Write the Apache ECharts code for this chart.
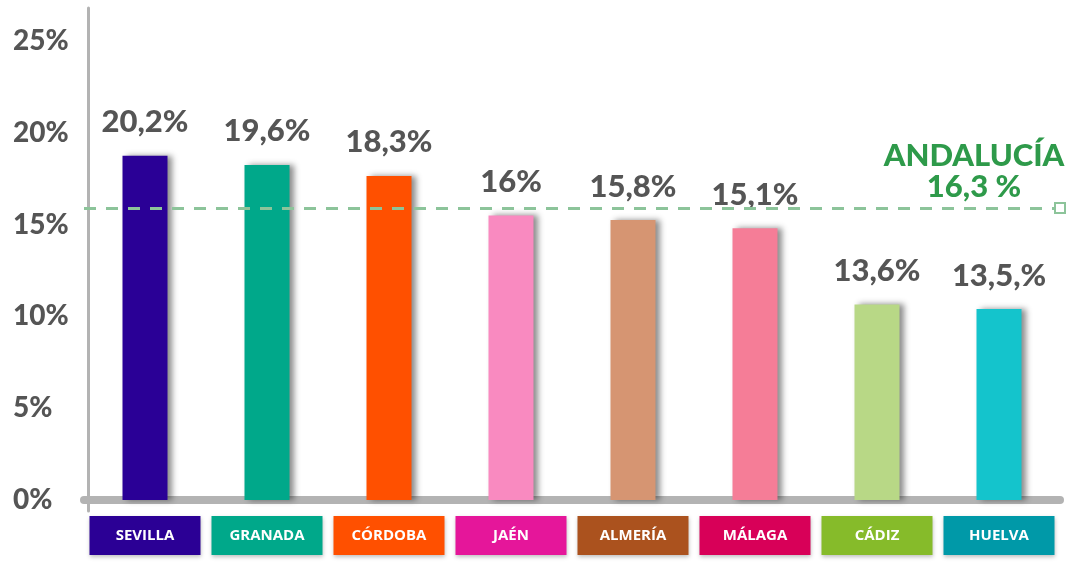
<!DOCTYPE html>
<html>
<head>
<meta charset="utf-8">
<script src="https://cdn.jsdelivr.net/npm/echarts@6/dist/echarts.min.js"></script>
<style>
  html, body { margin: 0; padding: 0; background: #fff; }
  #chart { width: 1087px; height: 562px; }
</style>
</head>
<body>
<div id="chart"></div>
<script>
// provinces
var provinces = ['SEVILLA', 'GRANADA', 'CÓRDOBA', 'JAÉN', 'ALMERÍA', 'MÁLAGA', 'CÁDIZ', 'HUELVA'];
// bar heights as drawn in the picture
var barValues = [18.75, 18.25, 17.65, 15.5, 15.25, 14.8, 10.65, 10.4];
// printed labels above the bars
var barLabels = ['20,2%', '19,6%', '18,3%', '16%', '15,8%', '15,1%', '13,6%', '13,5,%'];
var barColors = ['#2a0096', '#00a88a', '#ff5000', '#f98ac0', '#d69572', '#f57d97', '#b8d886', '#14c4cc'];
var boxColors = ['#2b0095', '#00a88a', '#ff5000', '#e5169a', '#ab521e', '#d80058', '#86bb2a', '#0099a8'];
var yTicks = [0, 5, 10, 15, 20, 25];
var avgLine = 15.9;
var avgText = ['ANDALUCÍA', '16,3 %'];

var myChart = echarts.init(document.getElementById('chart'));

var rich = {};
provinces.forEach(function (p, i) {
    rich['c' + i] = {
        backgroundColor: boxColors[i],
        color: '#fff',
        fontFamily: 'Open Sans',
        fontWeight: 'bold',
        fontSize: 15,
        width: 111,
        height: 39,
        lineHeight: 39,
        align: 'center',
        shadowColor: 'rgba(0,0,0,0.25)',
        shadowBlur: 4,
        shadowOffsetY: 2
    };
});

var option = {
    animation: false,
    grid: { left: 84, right: 27, top: 8, bottom: 51, containLabel: false },
    xAxis: {
        type: 'category',
        data: provinces,
        axisLine: { onZero: true, lineStyle: { color: '#b3b3b3', width: 8 } },
        axisTick: { show: false },
        axisLabel: {
            margin: 5,
            interval: 0,
            formatter: function (v) {
                return '{c' + provinces.indexOf(v) + '|' + v + '}';
            },
            rich: rich
        }
    },
    yAxis: {
        type: 'value',
        min: -0.6,
        max: 26.8,
        offset: -4,
        splitLine: { show: false },
        axisTick: { show: false },
        axisLine: { show: true, lineStyle: { color: '#b3b3b3', width: 3 } },
        axisLabel: {
            customValues: yTicks,
            align: 'left',
            margin: 75,
            color: '#555',
            fontFamily: 'Lato',
            fontWeight: 900,
            fontSize: 28,
            formatter: '{value}%'
        }
    },
    series: [{
        type: 'bar',
        barWidth: 45,
        data: barValues.map(function (v, i) {
            return { value: v, itemStyle: { color: barColors[i] } };
        }),
        itemStyle: {
            shadowColor: 'rgba(0,0,0,0.45)',
            shadowBlur: 6,
            shadowOffsetX: 4
        },
        label: {
            show: true,
            position: 'top',
            distance: 18,
            color: '#555',
            fontFamily: 'Lato',
            fontWeight: 900,
            fontSize: 31,
            formatter: function (p) { return barLabels[p.dataIndex]; }
        },
        markLine: {
            silent: true,
            symbol: ['none', 'emptyRect'],
            symbolSize: 10,
            lineStyle: { color: '#8cc49a', type: [12, 10], width: 3 },
            label: {
                position: 'insideEndTop',
                distance: 6,
                offset: [10, 0],
                formatter: '{a|' + avgText[0] + '}\n{a|' + avgText[1] + '}',
                rich: {
                    a: {
                        color: '#2e9a4a',
                        fontFamily: 'Lato',
                        fontWeight: 900,
                        fontSize: 31,
                        lineHeight: 31,
                        width: 180,
                        align: 'center'
                    }
                }
            },
            data: [{ yAxis: avgLine }]
        }
    }]
};

myChart.setOption(option);
</script>
</body>
</html>
